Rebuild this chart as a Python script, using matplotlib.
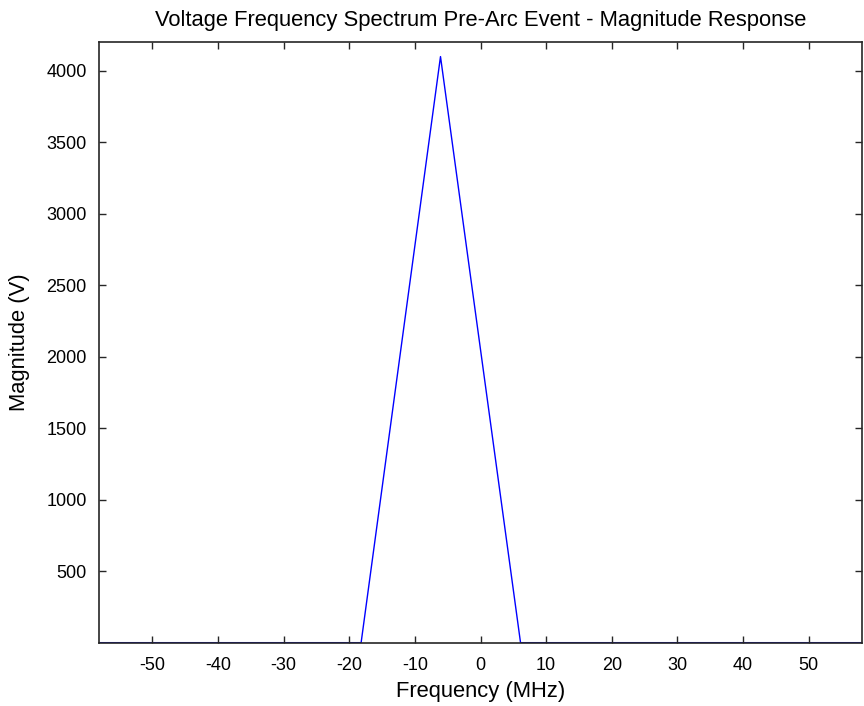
import matplotlib
matplotlib.use("Agg")
import matplotlib.pyplot as plt

plt.rcParams['font.family'] = ['Liberation Sans', 'DejaVu Sans']
plt.rcParams['axes.unicode_minus'] = False

# Data (frequency in MHz, magnitude in V)
freq = [-58.1, -18.2, -6.1, 6.1, 58.1]
magnitude = [0, 0, 4100, 0, 0]

xticks = [-50, -40, -30, -20, -10, 0, 10, 20, 30, 40, 50]
yticks = [500, 1000, 1500, 2000, 2500, 3000, 3500, 4000]

fig = plt.figure(figsize=(8.64, 7.06), dpi=100)
ax = fig.add_axes([0.115, 0.0897, 0.8823, 0.8504])
ax.plot(freq, magnitude, color='#0000ff', linewidth=1.0, zorder=1)
ax.set_axisbelow(False)
ax.set_xlim(-58.1, 58.1)
ax.set_ylim(0, 4200)
ax.set_xticks(xticks)
ax.set_yticks(yticks)
ax.tick_params(direction='in', top=True, right=True, length=5, width=1,
               labelsize=13, colors='#262626', labelcolor='black')
ax.tick_params(axis='x', pad=10)
ax.tick_params(axis='y', pad=9)
for s in ax.spines.values():
    s.set_linewidth(1.2)
    s.set_color('#262626')
    s.set_zorder(5)
ax.set_title('Voltage Frequency Spectrum Pre-Arc Event - Magnitude Response',
             fontsize=15.8, pad=12)
ax.set_xlabel('Frequency (MHz)', fontsize=15.8, labelpad=5)
ax.set_ylabel('Magnitude (V)', fontsize=15.8, labelpad=12)
fig.savefig('out.png', dpi=100)
